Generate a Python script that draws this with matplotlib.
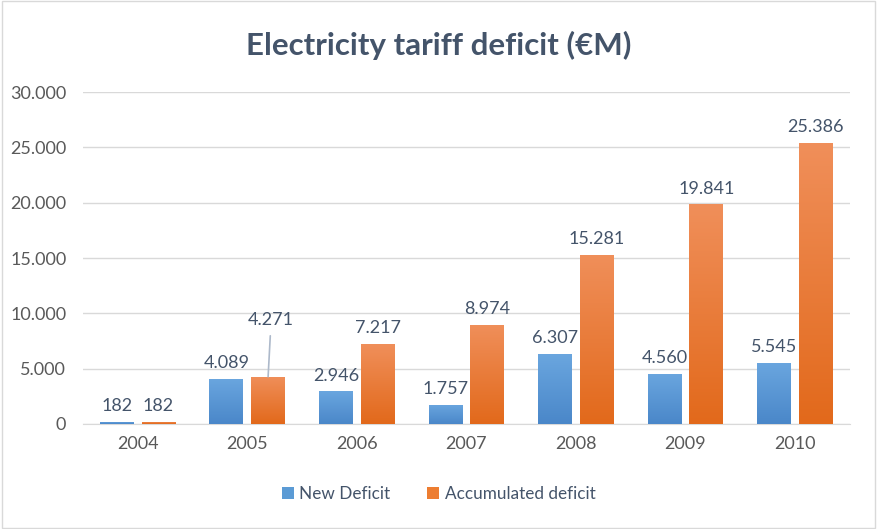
import matplotlib
matplotlib.use("Agg")
import matplotlib.pyplot as plt
import numpy as np
from matplotlib.patches import Patch
from matplotlib.colors import LinearSegmentedColormap

years = ["2004", "2005", "2006", "2007", "2008", "2009", "2010"]
new_deficit = [182, 4089, 2946, 1757, 6307, 4560, 5545]
accumulated = [182, 4271, 7217, 8974, 15281, 19841, 25386]
series_names = ["New Deficit", "Accumulated deficit"]

plt.rcParams['font.family'] = ['Lato', 'DejaVu Sans']

fig = plt.figure(figsize=(8.77, 5.29), dpi=100)
ax = fig.add_axes([0.0946, 0.1985, 0.8744, 0.6275])

x = np.arange(len(years))
w = 0.31
off = 0.19
blue_bars = ax.bar(x - off, new_deficit, w, color="#5b9bd5", zorder=3)
orange_bars = ax.bar(x + off, accumulated, w, color="#ed7d31", zorder=3)

blue_cmap = LinearSegmentedColormap.from_list("b", ["#4a87c9", "#6aa6df"])
orange_cmap = LinearSegmentedColormap.from_list("o", ["#e2691b", "#f08f5a"])
grad = np.linspace(0, 1, 256).reshape(-1, 1)
for bars, cmap in ((blue_bars, blue_cmap), (orange_bars, orange_cmap)):
    for b in bars:
        b.set_facecolor("none")
        bx, by = b.get_x(), b.get_y()
        bw, bh = b.get_width(), b.get_height()
        im = ax.imshow(grad, cmap=cmap, aspect="auto", origin="lower",
                       extent=[bx, bx + bw, by, by + bh], zorder=3)
        im.set_clip_path(b)

def fmt(v):
    return f"{v:,}".replace(",", ".")

label_color = "#44546a"
lfs = 13
for i, v in enumerate(new_deficit):
    ax.text(x[i] - off, v + 700, fmt(v), ha="center", va="bottom",
            fontsize=lfs, color=label_color)
for i, v in enumerate(accumulated):
    if i == 1:
        ax.text(x[i] + off + 0.02, v + 4400, fmt(v), ha="center", va="bottom",
                fontsize=lfs, color=label_color)
        ax.annotate("", xy=(x[i] + off, v), xytext=(x[i] + off + 0.02, v + 3700),
                    arrowprops=dict(arrowstyle="-", color="#adb9ca", lw=1.2,
                                    shrinkA=0, shrinkB=0))
    else:
        ax.text(x[i] + off, v + 700, fmt(v), ha="center", va="bottom",
                fontsize=lfs, color=label_color)

ax.set_xlim(-0.5, len(years) - 0.5)
ax.set_ylim(0, 30000)
ax.set_yticks(np.arange(0, 30001, 5000))
ax.set_yticklabels([fmt(int(t)) for t in np.arange(0, 30001, 5000)])
ax.set_xticks(x)
ax.set_xticklabels(years)
ax.tick_params(axis="both", length=0, labelsize=13, colors="#595959")
ax.tick_params(axis="x", pad=9)
ax.tick_params(axis="y", pad=12)
ax.yaxis.grid(True, color="#d9d9d9", lw=1, zorder=0)
ax.set_axisbelow(True)
for s in ["top", "right", "left"]:
    ax.spines[s].set_visible(False)
ax.spines["bottom"].set_color("#d9d9d9")

fig.text(0.5, 0.915, "Electricity tariff deficit (€M)", ha="center", va="center",
         fontsize=22.5, fontweight="bold", color="#44546a")

handles = [Patch(facecolor="#5b9bd5"), Patch(facecolor="#ed7d31")]
fig.legend(handles, series_names, loc="center", bbox_to_anchor=(0.5, 0.067),
           ncol=2, frameon=False, fontsize=12.3, handlelength=0.7, handleheight=0.7,
           handletextpad=0.3, columnspacing=2.2, labelcolor="#44546a")

border = plt.Rectangle((0.002, 0.002), 0.996, 0.996, transform=fig.transFigure,
                       fill=False, edgecolor="#d9d9d9", lw=1)
fig.add_artist(border)

fig.savefig("out.png", dpi=100)
